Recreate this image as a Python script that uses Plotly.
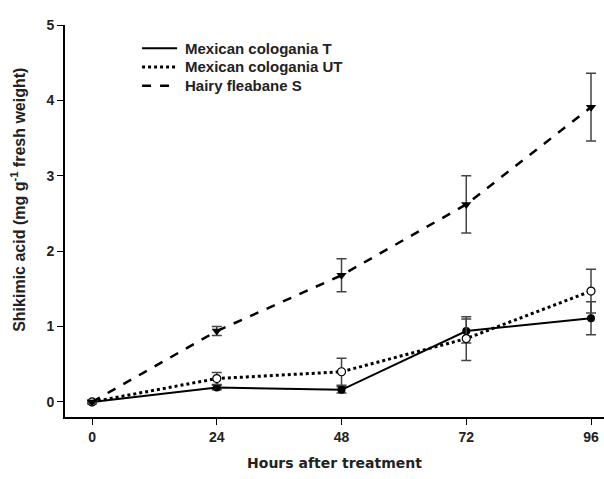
import plotly.graph_objects as go

hours = [0, 24, 48, 72, 96]
names = ["Mexican cologania T", "Mexican cologania UT", "Hairy fleabane S"]
t_vals = [0.0, 0.19, 0.16, 0.94, 1.11]
t_err = [0.02, 0.03, 0.04, 0.16, 0.22]
ut_vals = [0.0, 0.31, 0.40, 0.84, 1.47]
ut_err = [0.02, 0.08, 0.18, 0.29, 0.29]
hf_vals = [0.0, 0.94, 1.68, 2.62, 3.91]
hf_err = [0.02, 0.06, 0.22, 0.38, 0.45]
y_ticks = [0, 1, 2, 3, 4, 5]

FONT = "Liberation Sans, Arial, sans-serif"
TXT = "#222222"

fig = go.Figure()

styles = [
    (t_vals, t_err, "solid", 2, dict(symbol="circle", size=8, color="black")),
    (ut_vals, ut_err, "dot", 3, dict(symbol="circle", size=8, color="white", line=dict(color="black", width=1.2))),
    (hf_vals, hf_err, "dash", 2.5, dict(symbol="triangle-down", size=9, color="black")),
]

for name, (vals, err, dash, w, mk) in zip(names, styles):
    fig.add_trace(go.Scatter(
        x=hours, y=vals, mode="lines+markers", name=name, showlegend=False,
        line=dict(color="black", width=w, dash=dash), marker=mk,
        error_y=dict(type="data", array=err, visible=True, color="#444444", thickness=1.5, width=5),
    ))

# manual legend (tight rows like the reference)
leg_rows = [0.941, 0.893, 0.845]
annotations = []
shapes = []
for name, (vals, err, dash, w, mk), ry in zip(names, styles, leg_rows):
    shapes.append(dict(type="line", xref="paper", yref="paper", x0=0.143, x1=0.208, y0=ry, y1=ry,
                       line=dict(color="black", width=w, dash=dash)))
    annotations.append(dict(text=name, xref="paper", yref="paper", x=0.219, y=ry,
                            xanchor="left", yanchor="middle", showarrow=False,
                            font=dict(family=FONT, size=15, color=TXT, weight="bold")))

annotations.append(dict(text="Shikimic acid (mg g<sup>-1</sup> fresh weight)", textangle=-90,
                        xref="paper", yref="paper", x=0, y=0.554, xshift=-47,
                        xanchor="center", yanchor="middle", showarrow=False,
                        font=dict(family=FONT, size=16, color=TXT, weight="bold")))

fig.update_layout(
    width=604, height=479,
    margin=dict(l=65, r=0, t=25, b=62),
    plot_bgcolor="white", paper_bgcolor="white",
    font=dict(family=FONT, color=TXT, size=13),
    showlegend=False,
    xaxis=dict(range=[-5.2, 98.5], tickvals=hours, ticktext=[str(h) for h in hours],
               showline=True, linecolor="black", linewidth=2, ticks="outside", ticklen=6,
               tickcolor="black", tickwidth=1, showgrid=False, zeroline=False,
               tickfont=dict(family=FONT, size=14, color=TXT, weight="bold"),
               title=dict(text="Hours after treatment", font=dict(family="DejaVu Sans, sans-serif", size=14, color=TXT, weight="bold"), standoff=14)),
    yaxis=dict(range=[-0.2, 5], tickvals=y_ticks,
               showline=True, linecolor="black", linewidth=2, ticks="outside", ticklen=6,
               tickcolor="black", tickwidth=1, showgrid=False, zeroline=False,
               tickfont=dict(family=FONT, size=14, color=TXT, weight="bold")),
    annotations=annotations,
    shapes=shapes,
)

fig.write_html("out.html")
